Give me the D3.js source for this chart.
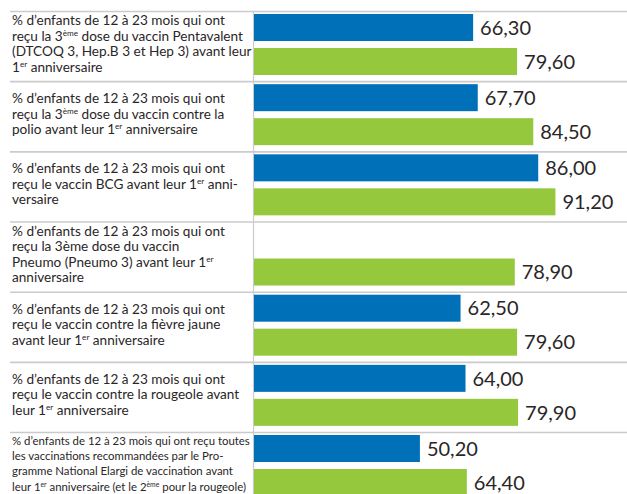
<!DOCTYPE html>
<html lang="fr">
<head>
<meta charset="utf-8">
<script src="https://cdn.jsdelivr.net/npm/d3@7"></script>
<style>
  html, body { margin: 0; padding: 0; background: #fff; }
  svg { display: block; }
</style>
</head>
<body>
<svg id="chart" width="627" height="494"></svg>
<script>
// Indicator labels, one array of lines per row; "^" opens a superscript up to the next space.
const categories = [
  ["% d’enfants de 12 à 23 mois qui ont", "reçu la 3^ème dose du vaccin Pentavalent", "(DTCOQ 3, Hep.B 3 et Hep 3) avant leur", "1^er anniversaire"],
  ["% d’enfants de 12 à 23 mois qui ont", "reçu la 3^ème dose du vaccin contre la", "polio avant leur 1^er anniversaire"],
  ["% d’enfants de 12 à 23 mois qui ont", "reçu le vaccin BCG avant leur 1^er anni-", "versaire"],
  ["% d’enfants de 12 à 23 mois qui ont", "reçu la 3ème dose du vaccin", "Pneumo (Pneumo 3) avant leur 1^er", "anniversaire"],
  ["% d’enfants de 12 à 23 mois qui ont", "reçu le vaccin contre la fièvre jaune", "avant leur 1^er anniversaire"],
  ["% d’enfants de 12 à 23 mois qui ont", "reçu le vaccin contre la rougeole avant", "leur 1^er anniversaire"],
  ["% d’enfants de 12 à 23 mois qui ont reçu toutes", "les vaccinations recommandées par le Pro-", "gramme National Elargi de vaccination avant", "leur 1^er anniversaire (et le 2^ème pour la rougeole)"]
];
const seriesBlue  = [66.30, 67.70, 86.00, null, 62.50, 64.00, 50.20];
const seriesGreen = [79.60, 84.50, 91.20, 78.90, 79.60, 79.90, 64.40];
const seriesKeys = ["blue", "green"];
const seriesColors = { blue: "#0070b9", green: "#95c83d" };

const W = 627, H = 494;
const svg = d3.select("#chart");
const textColor = "#2a2627";
const gridColor = "#cbcbcb";
const labelFont = "Lato, 'Open Sans', sans-serif";

const rows = d3.range(categories.length);
const y = d3.scaleBand().domain(rows).range([11, 11 + 70.17 * rows.length]).paddingInner(0);
const ySeries = d3.scaleBand().domain(seriesKeys).range([3, 64]).paddingInner(7 / 34).paddingOuter(0);
const x = d3.scaleLinear().domain([0, 100]).range([254, 254 + 330.5]);
const fmt = v => d3.format(".2f")(v).replace(".", ",");

// Row separators
svg.append("g").selectAll("line").data(rows).join("line")
  .attr("x1", 10).attr("x2", W)
  .attr("y1", d => y(d) + 0.5).attr("y2", d => y(d) + 0.5)
  .attr("stroke", gridColor).attr("stroke-width", 1.6);

// Vertical divider between labels and bars
svg.append("line")
  .attr("x1", x(0) - 0.5).attr("x2", x(0) - 0.5)
  .attr("y1", y(0)).attr("y2", H)
  .attr("stroke", gridColor).attr("stroke-width", 1.2);

// Size the label font so a standard first line spans the label column
function fitSize(str, target, base) {
  const t = svg.append("text").attr("font-family", labelFont).attr("font-size", base).text(str);
  const w = t.node().getComputedTextLength();
  t.remove();
  return base * target / w;
}
const mainSize = fitSize(categories[0][0], 213, 14);
const smallSize = fitSize(categories[6][0], 238, 12);

// Labels
const labelG = svg.append("g").attr("fill", textColor).attr("font-family", labelFont);
categories.forEach((lines, i) => {
  const small = i === categories.length - 1;
  const fs = small ? smallSize : mainSize;
  const lh = 15.4;
  const blockH = lines.length * lh;
  const top = y(i) + (y.bandwidth() - blockH) / 2 - 1;
  lines.forEach((line, k) => {
    const t = labelG.append("text")
      .attr("x", 12)
      .attr("y", top + k * lh + fs * 0.82)
      .attr("font-size", fs);
    const rise = fs * 0.36;
    let pending = 0;
    line.split(/(\^[^\s]+)/).forEach(p => {
      if (!p) return;
      if (p.startsWith("^")) {
        t.append("tspan").attr("font-size", fs * 0.6).attr("dy", -rise).text(p.slice(1));
        pending = rise;
      } else {
        t.append("tspan").attr("dy", pending).text(p);
        pending = 0;
      }
    });
  });
});

// Bars
const data = rows.flatMap(i => [
  { row: i, key: "blue", value: seriesBlue[i] },
  { row: i, key: "green", value: seriesGreen[i] }
]).filter(d => d.value != null);

svg.append("g").selectAll("rect").data(data).join("rect")
  .attr("x", x(0))
  .attr("y", d => y(d.row) + ySeries(d.key))
  .attr("width", d => x(d.value) - x(0))
  .attr("height", ySeries.bandwidth())
  .attr("fill", d => seriesColors[d.key]);

// Value labels
svg.append("g").selectAll("text").data(data).join("text")
  .attr("x", d => x(d.value) + 7)
  .attr("y", d => y(d.row) + ySeries(d.key) + ySeries.bandwidth() / 2)
  .attr("dy", "0.36em")
  .attr("font-family", labelFont)
  .attr("font-size", 20)
  .attr("fill", textColor)
  .text(d => fmt(d.value));
</script>
</body>
</html>
